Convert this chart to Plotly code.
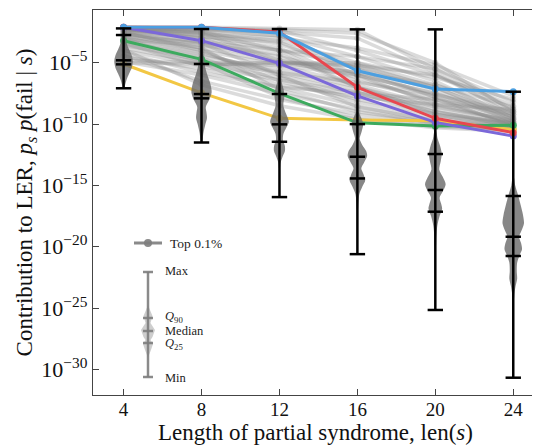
import numpy as np
import plotly.graph_objects as go

# ---------------- data (log10 of contribution) ----------------
lengths = [4, 8, 12, 16, 20, 24]

gray_lines = [
    [-2.1, -2.1, -2.2, -2.3, -5.5, -8.8],
    [-2.1, -2.2, -2.3, -2.6, -5.0, -9.0],
    [-2.2, -2.3, -2.5, -3.0, -5.8, -9.3],
    [-2.1, -2.2, -2.4, -4.0, -6.0, -8.5],
    [-2.2, -2.4, -2.8, -4.5, -6.5, -9.5],
    [-2.3, -2.6, -3.2, -5.0, -6.8, -9.2],
    [-2.2, -2.5, -3.5, -5.5, -7.2, -9.8],
    [-2.4, -3.0, -4.0, -5.2, -7.0, -9.6],
    [-2.5, -3.3, -4.5, -6.0, -7.5, -9.4],
    [-2.3, -2.8, -3.8, -6.5, -8.0, -10.0],
    [-2.6, -3.5, -4.8, -6.2, -8.2, -9.9],
    [-2.8, -3.8, -5.0, -5.8, -7.8, -10.2],
    [-3.0, -4.0, -5.2, -6.8, -8.5, -10.0],
    [-3.2, -4.5, -5.5, -7.0, -8.6, -9.7],
    [-2.2, -3.0, -5.0, -5.0, -6.2, -8.0],
    [-3.5, -4.8, -5.8, -7.2, -8.8, -10.3],
    [-2.9, -4.2, -6.0, -7.5, -9.0, -10.1],
    [-3.8, -5.0, -6.2, -8.0, -9.2, -10.4],
    [-2.5, -4.0, -6.5, -8.2, -9.5, -10.2],
    [-4.0, -5.2, -5.0, -5.2, -6.0, -9.0],
    [-4.8, -5.0, -5.0, -5.3, -7.0, -9.5],
    [-5.0, -5.1, -5.2, -6.0, -7.5, -9.8],
    [-4.5, -5.5, -7.0, -8.5, -9.8, -10.3],
    [-4.9, -6.0, -7.5, -8.8, -10.0, -10.5],
    [-2.7, -3.3, -4.0, -4.5, -5.5, -8.2],
    [-2.4, -2.7, -3.0, -3.8, -5.2, -7.7],
    [-3.3, -4.3, -5.8, -6.6, -7.6, -9.0],
    [-2.6, -3.8, -7.2, -9.0, -9.9, -10.3],
    [-3.0, -5.0, -7.8, -9.5, -10.2, -10.5],
    [-4.2, -5.8, -7.0, -7.5, -8.0, -9.2],
    [-3.6, -4.6, -6.8, -7.8, -8.4, -8.8],
    [-2.2, -2.3, -2.8, -5.5, -7.8, -9.6],
    [-2.5, -2.9, -3.3, -6.0, -8.4, -9.8],
    [-3.1, -3.6, -4.3, -7.0, -9.0, -10.0],
    [-2.8, -3.4, -6.0, -8.6, -9.7, -10.2],
    [-4.4, -6.5, -8.0, -9.2, -10.0, -10.4],
    [-3.9, -6.8, -8.5, -9.6, -10.3, -10.6],
    [-2.3, -2.5, -4.0, -7.0, -9.2, -9.9],
    [-2.2, -2.6, -4.8, -5.8, -6.8, -8.6],
    [-3.4, -5.3, -6.4, -7.4, -9.3, -10.0],
]

yellow = [-5.1, -7.45, -9.53, -9.67, -9.73, -10.45]
green = [-3.2, -4.72, -7.5, -9.9, -10.16, -10.1]
purple = [-2.1, -3.2, -5.05, -7.7, -9.86, -10.97]
red = [-2.1, -2.1, -2.5, -7.0, -9.53, -10.7]
blue = [-2.1, -2.1, -2.6, -5.65, -7.14, -7.36]
highlight = [
    (yellow, "#F2C744"),
    (green, "#3DAA5E"),
    (purple, "#7B68D9"),
    (red, "#E8474F"),
    (blue, "#4C9FE0"),
]

# summary statistics (log10) per length
stat_max = [-2.2, -2.25, -2.25, -2.28, -2.28, -7.36]
stat_q90 = [-2.74, -5.1, -7.55, -10.0, -12.44, -15.86]
stat_median = [-4.8, -7.55, -10.02, -12.66, -15.37, -19.18]
stat_q25 = [-5.13, -7.9, -11.44, -14.43, -17.14, -20.75]
stat_min = [-7.08, -11.5, -15.95, -20.6, -25.15, -30.67]

# violin density profiles: (log10 value, relative half-width)
violins = {
    4: [(-2.1, 0.04), (-2.6, 0.08), (-3.2, 0.12), (-3.8, 0.25), (-4.4, 0.42), (-4.9, 0.48),
        (-5.4, 0.42), (-5.9, 0.28), (-6.4, 0.15), (-6.8, 0.08), (-7.1, 0.02)],
    8: [(-2.2, 0.03), (-3.5, 0.06), (-4.5, 0.1), (-5.3, 0.18), (-6.0, 0.3), (-6.7, 0.45),
        (-7.4, 0.52), (-8.0, 0.4), (-8.6, 0.22), (-9.0, 0.25), (-9.5, 0.28), (-10.0, 0.2),
        (-10.7, 0.1), (-11.5, 0.02)],
    12: [(-5.5, 0.03), (-6.5, 0.1), (-7.2, 0.22), (-7.8, 0.25), (-8.5, 0.2), (-9.2, 0.35),
         (-9.8, 0.48), (-10.3, 0.35), (-10.8, 0.2), (-11.3, 0.18), (-11.8, 0.28), (-12.2, 0.28),
         (-12.7, 0.15), (-13.2, 0.05), (-13.6, 0.02)],
    16: [(-9.0, 0.03), (-9.5, 0.2), (-10.0, 0.3), (-10.6, 0.22), (-11.2, 0.12), (-11.7, 0.25),
         (-12.2, 0.45), (-12.6, 0.5), (-13.1, 0.35), (-13.6, 0.2), (-14.1, 0.32), (-14.6, 0.4),
         (-15.1, 0.25), (-15.7, 0.1), (-16.4, 0.05), (-17.0, 0.02)],
    20: [(-10.5, 0.03), (-11.2, 0.12), (-11.8, 0.25), (-12.4, 0.33), (-13.0, 0.28), (-13.7, 0.2),
         (-14.3, 0.38), (-14.9, 0.53), (-15.5, 0.38), (-16.0, 0.22), (-16.5, 0.3), (-16.9, 0.35),
         (-17.5, 0.22), (-18.3, 0.1), (-19.2, 0.05), (-20.0, 0.02)],
    24: [(-14.3, 0.02), (-15.0, 0.1), (-15.8, 0.25), (-16.6, 0.38), (-17.4, 0.5), (-18.1, 0.55),
         (-18.7, 0.42), (-19.2, 0.3), (-19.7, 0.4), (-20.2, 0.45), (-20.7, 0.32), (-21.3, 0.2),
         (-22.0, 0.18), (-22.6, 0.2), (-23.2, 0.12), (-23.8, 0.06), (-24.4, 0.02)],
}

ytick_exps = [-5, -10, -15, -20, -25, -30]
xtick_vals = [4, 8, 12, 16, 20, 24]

FONT = "Liberation Serif, Times New Roman, serif"

# figure geometry (page body adds an 8px offset)
W, H = 532, 437
ML, MR, MT, MB = 85, 2, 2, 50
PW, PH = W - ML - MR, H - MT - MB

fig = go.Figure()

# gray lines
for ln in gray_lines:
    fig.add_trace(go.Scatter(
        x=lengths, y=[10 ** v for v in ln], mode="lines+markers",
        line=dict(color="rgba(135,135,135,0.3)", width=3.5),
        marker=dict(color="rgba(135,135,135,0.3)", size=6),
        showlegend=False, hoverinfo="skip"))

# highlighted lines
for ln, col in highlight:
    fig.add_trace(go.Scatter(
        x=lengths, y=[10 ** v for v in ln], mode="lines+markers",
        line=dict(color=col, width=3), marker=dict(color=col, size=7),
        showlegend=False, hoverinfo="skip"))

# violins
for pos, prof in violins.items():
    vals = [p[0] for p in prof]
    wid = [p[1] for p in prof]
    xs = [pos + w for w in wid] + [pos - w for w in wid[::-1]] + [pos + wid[0]]
    ys = [10 ** v for v in vals] + [10 ** v for v in vals[::-1]] + [10 ** vals[0]]
    fig.add_trace(go.Scatter(
        x=xs, y=ys, mode="lines", fill="toself",
        line=dict(color="rgba(110,110,110,0.0)", width=0.5, shape="spline", smoothing=0.8),
        fillcolor="rgba(105,105,105,0.8)", showlegend=False, hoverinfo="skip"))

# error bars with quantile ticks
for i, pos in enumerate(lengths):
    fig.add_trace(go.Scatter(
        x=[pos, pos], y=[10 ** stat_min[i], 10 ** stat_max[i]], mode="lines",
        line=dict(color="black", width=2.5), showlegend=False, hoverinfo="skip"))
    ticks = [stat_min[i], stat_q25[i], stat_median[i], stat_q90[i], stat_max[i]]
    fig.add_trace(go.Scatter(
        x=[pos] * 5, y=[10 ** v for v in ticks], mode="markers",
        marker=dict(symbol="line-ew", size=11, line=dict(color="black", width=2.5)),
        showlegend=False, hoverinfo="skip"))

# ---------------- legend-like keys (paper coords) ----------------
# helper: positions given relative to the plot-area top-left corner (pixels)
def px(xp):
    return xp / PW


def py(yp):
    return 1 - yp / PH


shapes = []
annotations = []
keycol = "rgba(125,125,125,0.9)"
# Top 0.1% key (offsets relative to plot area)
ky = 233
shapes.append(dict(type="line", xref="paper", yref="paper", x0=px(41), x1=px(69),
                   y0=py(ky), y1=py(ky), line=dict(color=keycol, width=3)))
shapes.append(dict(type="circle", xref="paper", yref="paper", x0=px(51), x1=px(59),
                   y0=py(ky + 4), y1=py(ky - 4), fillcolor=keycol, line=dict(width=0)))
annotations.append(dict(text="Top 0.1%", xref="paper", yref="paper", x=px(75), y=py(ky),
                        xanchor="left", yanchor="middle", showarrow=False,
                        font=dict(family=FONT, size=13.5, color="#222")))

# violin key
cx = 55
vk = [(0, 295), (2, 300), (4.5, 306), (2.5, 313), (7, 320), (4.5, 327), (2.5, 330),
      (5, 334), (3, 340), (1, 345), (0, 348)]
pts = [(cx + w, y) for w, y in vk] + [(cx - w, y) for w, y in vk[::-1]]
path = "M " + " L ".join(f"{px(a):.4f},{py(b):.4f}" for a, b in pts) + " Z"
shapes.append(dict(type="path", xref="paper", yref="paper", path=path,
                   fillcolor="rgba(185,185,185,0.7)", line=dict(width=0)))
shapes.append(dict(type="line", xref="paper", yref="paper", x0=px(cx), x1=px(cx),
                   y0=py(262), y1=py(367), line=dict(color=keycol, width=2.5)))
for yy in [262, 308, 321, 333, 367]:
    shapes.append(dict(type="line", xref="paper", yref="paper", x0=px(cx - 5), x1=px(cx + 5),
                       y0=py(yy), y1=py(yy), line=dict(color=keycol, width=2.5)))
for txt, yy in [("Max", 261), ("<i>Q</i><sub>90</sub>", 307), ("Median", 321),
                ("<i>Q</i><sub>25</sub>", 334), ("Min", 368)]:
    annotations.append(dict(text=txt, xref="paper", yref="paper", x=px(70), y=py(yy),
                            xanchor="left", yanchor="middle", showarrow=False,
                            font=dict(family=FONT, size=12.5, color="#222")))

fig.update_layout(
    width=W, height=H,
    margin=dict(l=ML, r=MR, t=MT, b=MB),
    paper_bgcolor="white", plot_bgcolor="white",
    font=dict(family=FONT, size=18, color="#111"),
    shapes=shapes, annotations=annotations,
    showlegend=False,
)
fig.update_xaxes(
    range=[2.43, 25.27], tickvals=xtick_vals, ticktext=[str(v) for v in xtick_vals],
    ticks="inside", ticklen=6, tickwidth=1.2, tickcolor="#444",
    showline=True, linecolor="#444", linewidth=1.3, mirror="ticks",
    showgrid=False, zeroline=False,
    title=dict(text="Length of partial syndrome, len(<i>s</i>)", font=dict(size=23), standoff=3),
    tickfont=dict(size=19), automargin=False, ticklabelstandoff=-3,
)
fig.update_yaxes(
    type="log", range=[-32.08, -0.70],
    tickvals=[10.0 ** e for e in ytick_exps],
    ticktext=[f"10<sup>\u2212{-e}</sup>" for e in ytick_exps],
    ticks="inside", ticklen=6, tickwidth=1.2, tickcolor="#444",
    showline=True, linecolor="#444", linewidth=1.3, mirror="ticks",
    showgrid=False, zeroline=False,
    title=dict(text="Contribution to LER, <i>p<sub>s</sub> p</i>(fail | <i>s</i>)",
               font=dict(size=23), standoff=2),
    tickfont=dict(size=22), automargin=False,
)

fig.write_html("out.html")
